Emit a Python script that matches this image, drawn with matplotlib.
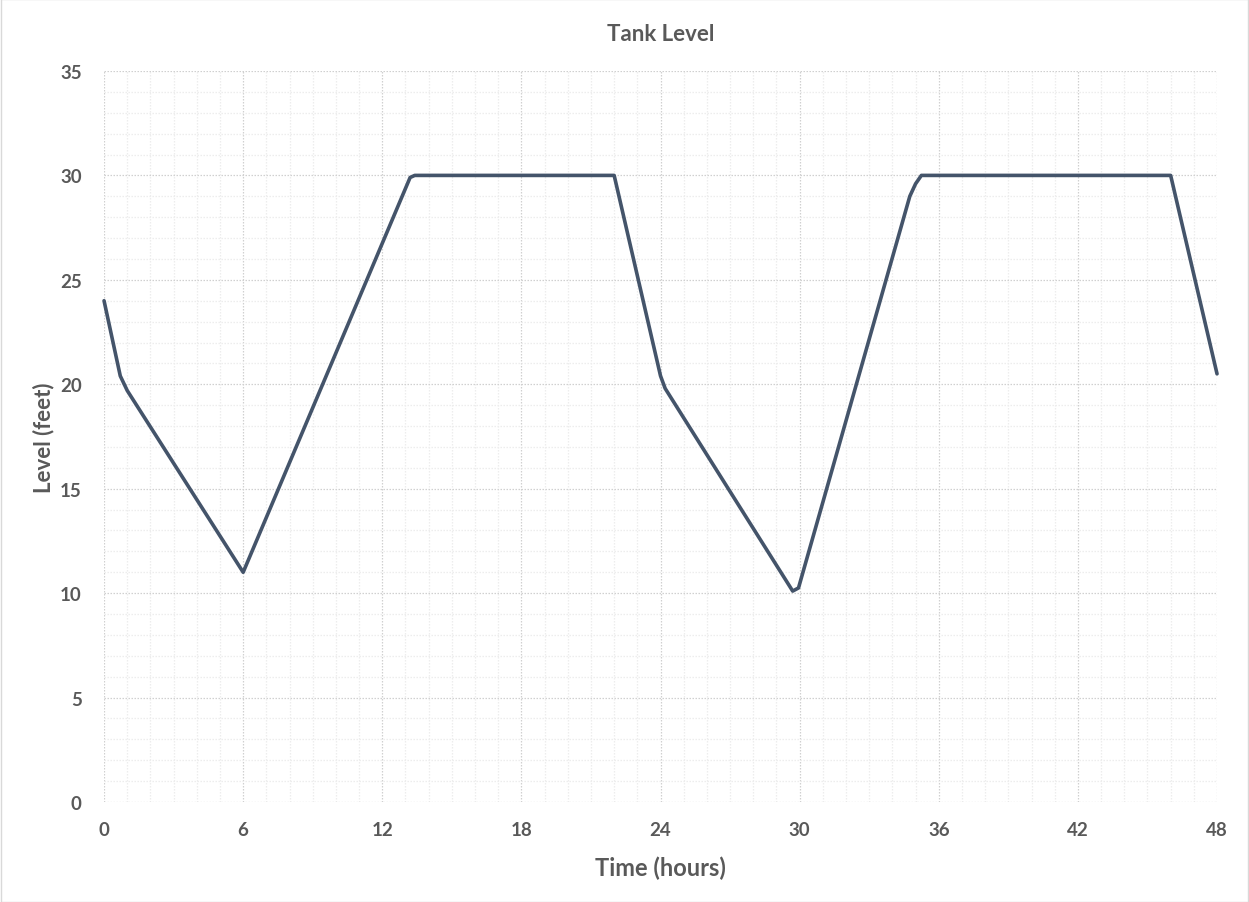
import matplotlib
matplotlib.use("Agg")
import matplotlib.pyplot as plt
from matplotlib.ticker import MultipleLocator

# Tank level over two days
hours = [0, 0.7, 1.0, 6.0, 13.2, 13.4, 22.0, 24.0, 24.2, 29.7, 29.95, 34.75, 35.0, 35.25, 46.0, 48.0]
level = [24.0, 20.4, 19.7, 11.0, 29.9, 30.0, 30.0, 20.4, 19.8, 10.1, 10.25, 29.0, 29.6, 30.0, 30.0, 20.5]

x_ticks = [0, 6, 12, 18, 24, 30, 36, 42, 48]
y_ticks = [0, 5, 10, 15, 20, 25, 30, 35]

plt.rcParams["font.family"] = ["Lato", "DejaVu Sans"]
text_color = "#595959"

fig = plt.figure(figsize=(12.49, 9.03), dpi=100)
ax = fig.add_axes([0.0833, 0.1107, 0.8911, 0.8096])

ax.plot(hours, level, color="#44546A", linewidth=2.6, solid_joinstyle="round",
        solid_capstyle="round", clip_on=False, zorder=3)

ax.set_xlim(0, 48)
ax.set_ylim(0, 35)
ax.set_xticks(x_ticks)
ax.set_yticks(y_ticks)
ax.xaxis.set_minor_locator(MultipleLocator(1))
ax.yaxis.set_minor_locator(MultipleLocator(1))

ax.grid(which="major", color="#D0D0D0", linestyle=(0, (1.2, 1.2)), linewidth=0.9)
ax.grid(which="minor", color="#EDEDED", linestyle=(0, (1.2, 1.2)), linewidth=0.9)
ax.set_axisbelow(True)

for s in ax.spines.values():
    s.set_visible(False)

ax.tick_params(which="both", length=0)
ax.tick_params(axis="x", pad=14)
ax.tick_params(axis="y", pad=16)
for lab in ax.get_xticklabels() + ax.get_yticklabels():
    lab.set_fontsize(13.5)
    lab.set_fontweight("bold")
    lab.set_color(text_color)

ax.set_title("Tank Level", fontsize=16, fontweight="bold", color=text_color, pad=22)
ax.set_xlabel("Time (hours)", fontsize=17, fontweight="bold", color=text_color, labelpad=12)
ax.set_ylabel("Level (feet)", fontsize=16, fontweight="bold", color=text_color, labelpad=4)

# Light frame around the whole chart
fig.patches.append(plt.Rectangle((0.0005, 0.0005), 0.999, 0.999, transform=fig.transFigure,
                                 fill=False, edgecolor="#D9D9D9", linewidth=1.0))

fig.savefig("out.png", dpi=100, facecolor="white")
